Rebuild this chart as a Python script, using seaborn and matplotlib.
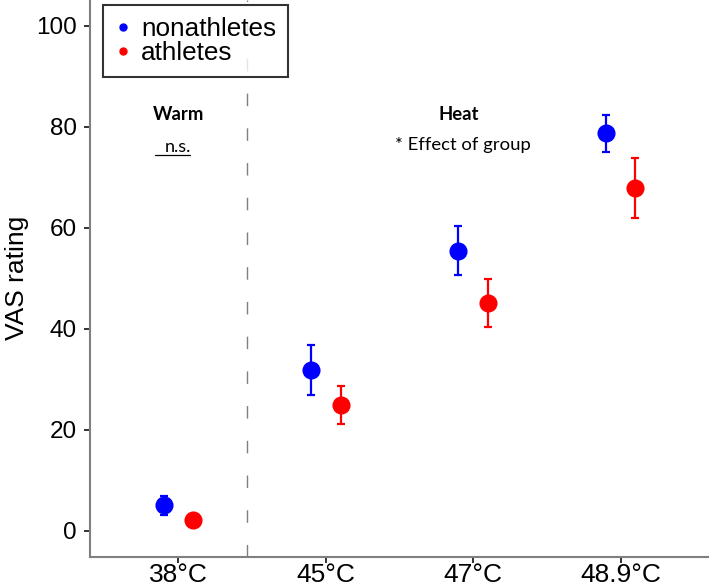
import numpy as np
import pandas as pd
import matplotlib
matplotlib.use("Agg")
import matplotlib.pyplot as plt
from matplotlib.lines import Line2D
import seaborn as sns

# ---- data ----
temps = ["38°C", "45°C", "47°C", "48.9°C"]
groups = ["nonathletes", "athletes"]
nonathletes_mean = [5.1, 31.9, 55.5, 78.7]
nonathletes_sem = [1.9, 4.9, 4.8, 3.6]
athletes_mean = [2.1, 24.9, 45.1, 67.9]
athletes_sem = [0.6, 3.8, 4.7, 6.0]
colors = {"nonathletes": "#0000FF", "athletes": "#FF0000"}

df = pd.DataFrame({
    "temp": temps * 2,
    "group": ["nonathletes"] * 4 + ["athletes"] * 4,
    "mean": nonathletes_mean + athletes_mean,
    "sem": nonathletes_sem + athletes_sem,
})
df["temp"] = pd.Categorical(df["temp"], categories=temps, ordered=True)

sns.set_style("white")
plt.rcParams["font.family"] = ["Liberation Sans", "DejaVu Sans"]
plt.rcParams["text.color"] = "black"
plt.rcParams["axes.labelcolor"] = "black"
plt.rcParams["xtick.color"] = "black"
plt.rcParams["ytick.color"] = "black"

fig = plt.figure(figsize=(7.09, 5.88), dpi=100)
ax = fig.add_axes([90 / 709, 1 - 556.7 / 588, 1 - 90 / 709, 556.7 / 588])

dodge = 0.2
offsets = {"nonathletes": -dodge / 2, "athletes": dodge / 2}
xidx = np.arange(len(temps))
for g in groups:
    sub = df[df["group"] == g]
    ax.errorbar(xidx + offsets[g], sub["mean"], yerr=sub["sem"], fmt="none",
                ecolor=colors[g], elinewidth=1.6, capsize=3, capthick=1.6, zorder=2)

sns.pointplot(data=df, x="temp", y="mean", hue="group", hue_order=groups,
              palette=colors, dodge=dodge, linestyle="none", errorbar=None,
              markers="o", markersize=11, ax=ax, legend=False, zorder=3)

ax.set_xlim(-0.6, 3.6)
ax.set_ylim(-5.1, 105.1)
ax.set_yticks([0, 20, 40, 60, 80, 100])
ax.set_xlabel("")
ax.set_ylabel("VAS rating", fontsize=19, labelpad=5)
ax.tick_params(axis="both", which="major", bottom=True, left=True,
               length=4.3, width=1.3, color="#222222", direction="out")
ax.tick_params(axis="y", labelsize=17.5, pad=5)
ax.tick_params(axis="x", labelsize=19, pad=0.5)
for s in ["top", "right"]:
    ax.spines[s].set_visible(False)
for s in ["left", "bottom"]:
    ax.spines[s].set_color("#7f7f7f")
    ax.spines[s].set_linewidth(1.5)

# dashed separator
ax.axvline(0.467, color="#7f7f7f", linewidth=1.0, dashes=(9, 16), zorder=1)

# annotations
ax.text(0, 82.4, "Warm", ha="center", va="center", fontsize=13.3,
        fontweight="bold", family="Lato")
ax.text(0, 76.1, "n.s.", ha="center", va="center", fontsize=13, family="Lato")
ax.plot([-0.16, 0.08], [74.4, 74.4], color="black", linewidth=0.9)
ax.text(1.9, 82.4, "Heat", ha="center", va="center", fontsize=13.3,
        fontweight="bold", family="Lato")
ax.text(1.93, 76.4, "* Effect of group", ha="center", va="center",
        fontsize=13.3, family="Lato")

handles = [Line2D([0], [0], marker="o", linestyle="none", markersize=5,
                  markerfacecolor=colors[g], markeredgecolor=colors[g]) for g in groups]
leg = ax.legend(handles, groups, loc="upper left", bbox_to_anchor=(0.021, 0.991),
                borderaxespad=0, fontsize=18.8, frameon=True, fancybox=False,
                handlelength=0.6, handletextpad=0.4, labelspacing=0.0,
                borderpad=0.45)
leg.get_frame().set_edgecolor("black")
leg.get_frame().set_linewidth(1.5)

fig.savefig("out.png", dpi=100)
